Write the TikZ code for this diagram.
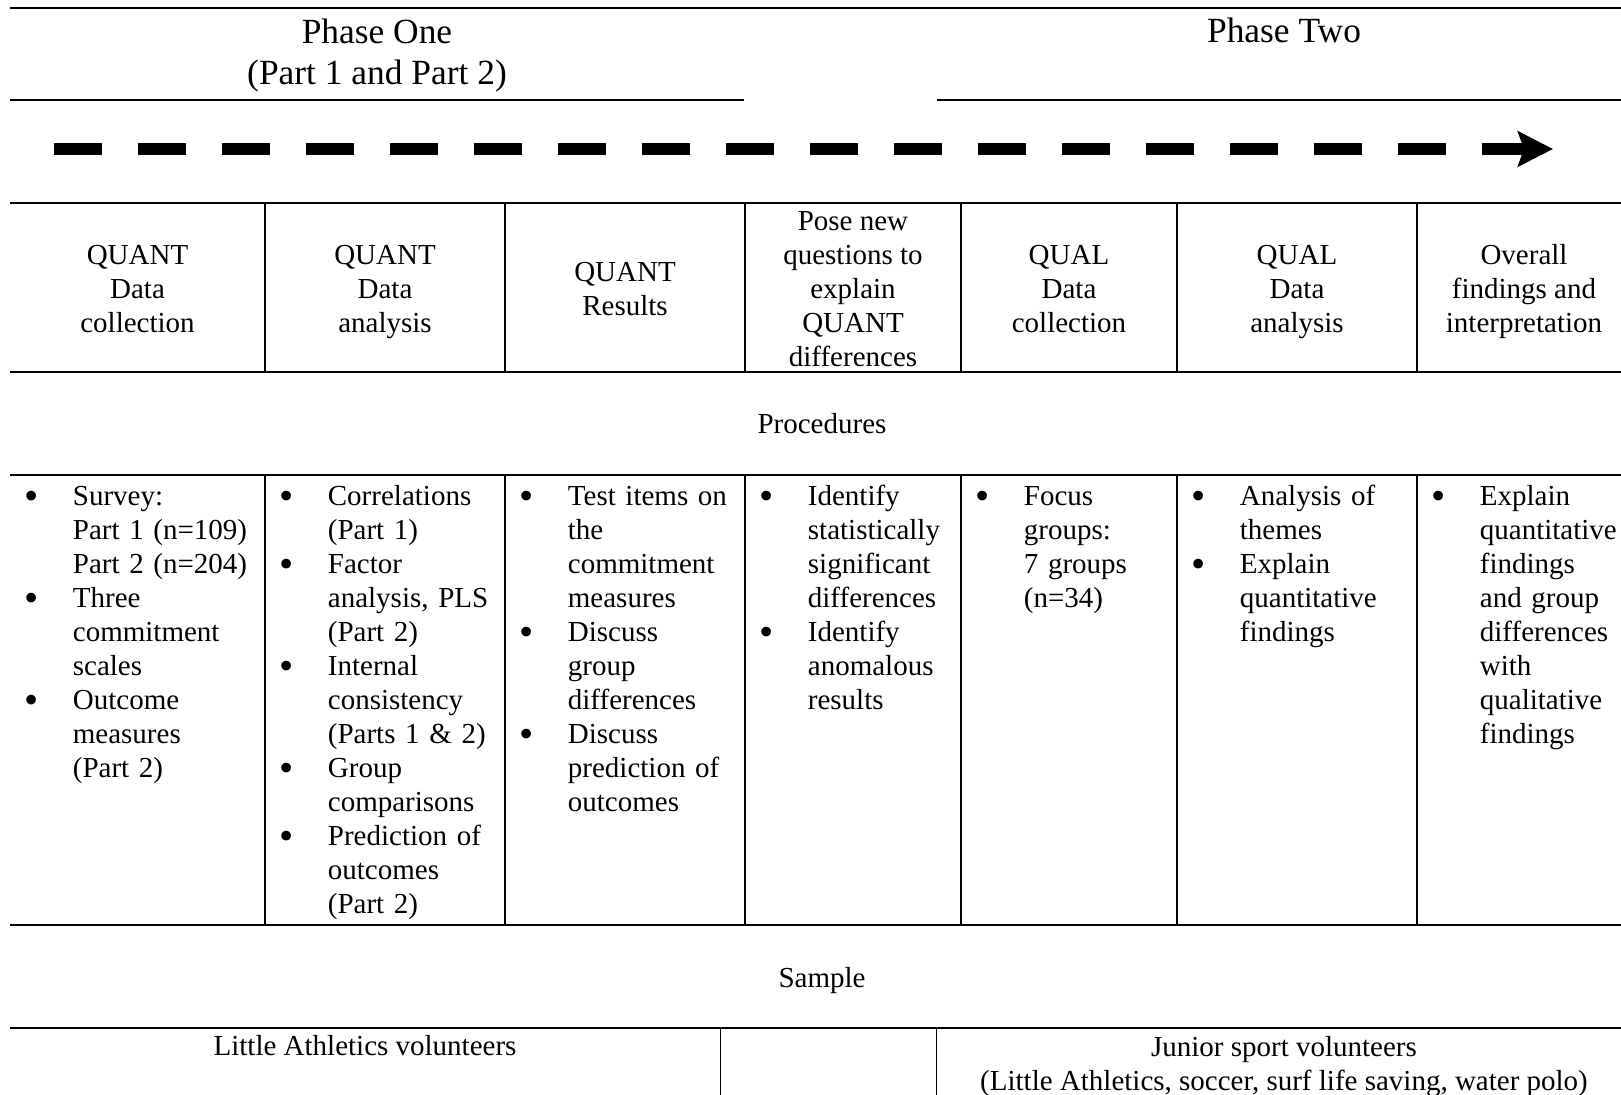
\documentclass[tikz,border=0pt]{standalone}
\usepackage{fontspec}
\usepackage{graphicx}
\setmainfont{Liberation Serif}
\usetikzlibrary{arrows.meta}

\newcommand{\bodyfont}{\fontsize{14.5}{17}\selectfont}
\newcommand{\phasefont}{\fontsize{17.7}{20.7}\selectfont}
\newcommand{\itm}{\noindent\llap{\raisebox{-2pt}{\scalebox{1.4}{\textbullet}}\hspace{17pt}}\strut}

\tikzset{
  rule/.style={line width=1pt},
  divider/.style={line width=0.75pt},
  cell/.style={anchor=north west, inner sep=0pt, text width=120pt, align=left, font=\bodyfont},
  head/.style={inner sep=0pt, align=center, font=\bodyfont, execute at begin node=\strut, execute at end node=\strut},
  phase/.style={inner sep=0pt, align=center, font=\phasefont, execute at begin node=\strut, execute at end node=\strut}
}

\begin{document}
\begin{tikzpicture}[x=0.5pt, y=-0.5pt]

\useasboundingbox (0,0) rectangle (1621,1095);

\draw [rule] (10,8) -- (1621,8);
\draw [rule] (10,100) -- (744,100);
\draw [rule] (937,100) -- (1621,100);

\node [phase] (phaseOne) at (377,58) {Phase One\\(Part 1 and Part 2)};
\node [phase] (phaseTwo) at (1284,33.9) {Phase Two};

\coordinate (arrowStart) at (54,149);
\coordinate (arrowEnd) at (1553,149);
\draw [line width=6pt, dash pattern=on 24pt off 18pt, -{Stealth[length=17.5pt, width=17.5pt, inset=3pt]}] (arrowStart) -- (arrowEnd);


\draw [rule] (10,203) -- (1621,203);
\draw [rule] (10,372.5) -- (1621,372.5);

\draw [divider] (265,203) -- (265,372.5);
\draw [divider] (505,203) -- (505,372.5);
\draw [divider] (745,203) -- (745,372.5);
\draw [divider] (961,203) -- (961,372.5);
\draw [divider] (1177,203) -- (1177,372.5);
\draw [divider] (1417,203) -- (1417,372.5);

\node [head] (quantCollect) at (137.5,294) {QUANT\\Data\\collection};
\node [head] (quantAnalysis) at (385,294) {QUANT\\Data\\analysis};
\node [head] (quantResults) at (625,294) {QUANT\\Results};
\node [head] (newQuestions) at (853,294) {Pose new\\questions to\\explain\\QUANT\\differences};
\node [head] (qualCollect) at (1069,294) {QUAL\\Data\\collection};
\node [head] (qualAnalysis) at (1297,294) {QUAL\\Data\\analysis};
\node [head] (overall) at (1524,294) {Overall\\findings and\\interpretation};


\node [head] (procedures) at (822,427.2) {Procedures};

\draw [rule] (10,475.5) -- (1621,475.5);
\draw [rule] (10,925.3) -- (1621,925.3);

\draw [divider] (265,475.5) -- (265,925.3);
\draw [divider] (505,475.5) -- (505,925.3);
\draw [divider] (745,475.5) -- (745,925.3);
\draw [divider] (961,475.5) -- (961,925.3);
\draw [divider] (1177,475.5) -- (1177,925.3);
\draw [divider] (1417,475.5) -- (1417,925.3);

\node [cell] (procCollect) at (72.5,481.2) {\itm Survey:\\ Part 1 (n=109)\\ Part 2 (n=204)\\ \itm Three\\ commitment\\ scales\\ \itm Outcome\\ measures\\ (Part 2)};
\node [cell] (procAnalysis) at (327.5,481.2) {\itm Correlations\\ (Part 1)\\ \itm Factor\\ analysis, PLS\\ (Part 2)\\ \itm Internal\\ consistency\\ (Parts 1 \& 2)\\ \itm Group\\ comparisons\\ \itm Prediction of\\ outcomes\\ (Part 2)};
\node [cell] (procResults) at (567.5,481.2) {\itm Test items on\\ the\\ commitment\\ measures\\ \itm Discuss\\ group\\ differences\\ \itm Discuss\\ prediction of\\ outcomes};
\node [cell] (procQuestions) at (807.5,481.2) {\itm Identify\\ statistically\\ significant\\ differences\\ \itm Identify\\ anomalous\\ results};
\node [cell] (procFocus) at (1023.5,481.2) {\itm Focus\\ groups:\\ 7 groups\\ (n=34)};
\node [cell] (procThemes) at (1239.5,481.2) {\itm Analysis of\\ themes\\ \itm Explain\\ quantitative\\ findings};
\node [cell] (procOverall) at (1479.5,481.2) {\itm Explain\\ quantitative\\ findings\\ and group\\ differences\\ with\\ qualitative\\ findings};


\node [head] (sample) at (822,980.2) {Sample};

\draw [rule] (10,1028) -- (1621,1028);
\draw [divider] (720.5,1028) -- (720.5,1095);
\draw [divider] (936.7,1028) -- (936.7,1095);

\node [head] (littleAth) at (365,1048.7) {Little Athletics volunteers};
\node [head] (juniorSport) at (1284,1068.2) {Junior sport volunteers\\(Little Athletics, soccer, surf life saving, water polo)};

\end{tikzpicture}
\end{document}
